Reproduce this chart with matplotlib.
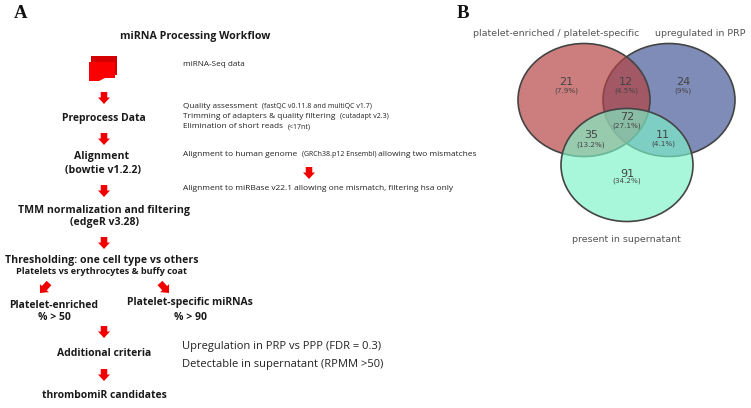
import matplotlib
matplotlib.use("Agg")
import matplotlib.pyplot as plt
from matplotlib.patches import Ellipse, Polygon, FancyArrow
from matplotlib.colors import to_rgba

plt.rcParams['font.family'] = ['Open Sans', 'DejaVu Sans']

# flow steps: (text, x centre, y centre, size)
bold_steps = [
    ("miRNA Processing Workflow", 195, 36, 7.7),
    ("Preprocess Data", 104, 118, 7.5),
    ("Alignment", 102, 157, 7.6),
    ("(bowtie v1.2.2)", 103, 171, 7.6),
    ("TMM normalization and filtering", 104, 210, 7.6),
    ("(edgeR v3.28)", 105, 223, 7.6),
    ("Thresholding: one cell type vs others", 102, 260, 7.6),
    ("Platelets vs erythrocytes & buffy coat", 102, 271, 6.6),
    ("Platelet-enriched", 54, 305, 7.5),
    ("% > 50", 54, 317, 7.5),
    ("Platelet-specific miRNAs", 190, 303, 7.5),
    ("% > 90", 190, 317, 7.5),
    ("Additional criteria", 104, 354, 7.5),
    ("thrombomiR candidates", 104, 396, 7.5),
]
# notes: list of (text, size) runs, x left, y centre
notes = [
    ([("miRNA-Seq data", 5.9)], 183, 65),
    ([("Quality assessment ", 5.95), ("(fastQC v0.11.8 and multiQC v1.7)", 5.0)], 183, 106),
    ([("Trimming of adapters & quality filtering ", 5.95), ("(cutadapt v2.3)", 5.0)], 183, 117),
    ([("Elimination of short reads ", 5.95), ("(<17nt)", 5.0)], 183, 127),
    ([("Alignment to human genome ", 6.0), ("(GRCh38.p12 Ensembl)", 5.0), (" allowing two mismatches", 6.0)], 183, 154),
    ([("Alignment to miRBase v22.1 allowing one mismatch, filtering hsa only", 6.03)], 183, 188),
    ([("Upregulation in PRP vs PPP (FDR = 0.3)", 8.0)], 182, 346),
    ([("Detectable in supernatant (RPMM >50)", 8.05)], 182, 365),
]
# arrows: start x, start y, end x, end y
arrows = [
    (104, 92, 104, 104), (104, 133, 104, 145), (309, 167, 309, 179),
    (104, 185, 104, 197), (104, 237, 104, 249), (49, 283, 40, 293),
    (160, 283, 169, 293), (104, 326, 104, 338), (104, 369, 104, 381),
]
# Venn circles in drawing order: cx, cy, rx, ry, colour, alpha
venn_circles = [
    (669, 100, 66, 56.5, (74 / 255, 91 / 255, 155 / 255), 0.70),
    (584, 100, 66, 56.5, (181 / 255, 64 / 255, 64 / 255), 0.68),
    (627, 165, 66, 56.5, (124 / 255, 244 / 255, 201 / 255), 0.65),
]
venn_labels = ["platelet-enriched / platelet-specific", "upregulated in PRP", "present in supernatant"]
venn_label_pos = [(556.5, 33), (700.5, 33), (626.5, 239)]
venn_counts = ["21", "12", "24", "35", "72", "11", "91"]
venn_pcts = ["(7.9%)", "(4.5%)", "(9%)", "(13.2%)", "(27.1%)", "(4.1%)", "(34.2%)"]
venn_pos = [(566, 82), (626, 82), (683, 82), (591, 135), (627, 117), (663, 135), (627, 174)]
venn_pct_y = [91, 91, 91, 145, 126, 144, 181]

fig = plt.figure(figsize=(7.51, 4.08), dpi=100)
ax = fig.add_axes([0, 0, 1, 1])
ax.set_xlim(0, 751)
ax.set_ylim(408, 0)
ax.axis("off")

ax.text(21, 14, "A", family="Liberation Serif", weight="bold", fontsize=13.5, ha="center", va="center", color="#111111")
ax.text(463, 14, "B", family="Liberation Serif", weight="bold", fontsize=13.5, ha="center", va="center", color="#111111")

for t, x, y, s in bold_steps:
    ax.text(x, y, t, weight="bold", fontsize=s, ha="center", va="center", color="#1a1a1a")

renderer = fig.canvas.get_renderer()
for runs, x, y in notes:
    cur = x
    for t, s in runs:
        txt = ax.text(cur, y, t, fontsize=s, ha="left", va="center", color="#222222")
        w = txt.get_window_extent(renderer)
        sp = s * 0.36 if t.endswith(" ") else 0
        lead = s * 0.36 if t.startswith(" ") else 0
        cur += w.width + sp + lead

# data icon
ax.add_patch(Polygon([(91, 56), (117, 56), (117, 75), (91, 75)], closed=True, fc="#d40000", ec="none"))
ax.add_patch(Polygon([(89, 62), (115, 62), (115, 78), (105, 78), (99, 81), (89, 81)], closed=True, fc="#fb0000", ec="none"))

for x0, y0, x1, y1 in arrows:
    ax.add_patch(FancyArrow(x0, y0, x1 - x0, y1 - y0, width=6.5, head_width=12, head_length=6.5,
                            length_includes_head=True, fc="#f00000", ec="none"))

for cx, cy, rx, ry, c, a in venn_circles:
    ax.add_patch(Ellipse((cx, cy), 2 * rx, 2 * ry, fc=to_rgba(c, a), ec="#444444", lw=1.2))

for t, (x, y) in zip(venn_labels, venn_label_pos):
    ax.text(x, y, t, family="DejaVu Sans", fontsize=6.8, ha="center", va="center", color="#555555")
for n, p, (x, y), py in zip(venn_counts, venn_pcts, venn_pos, venn_pct_y):
    ax.text(x, y, n, family="DejaVu Sans", fontsize=8, ha="center", va="center", color="#444444")
    ax.text(x, py, p, family="DejaVu Sans", fontsize=5.2, ha="center", va="center", color="#444444")

fig.savefig("out.png", dpi=100)
